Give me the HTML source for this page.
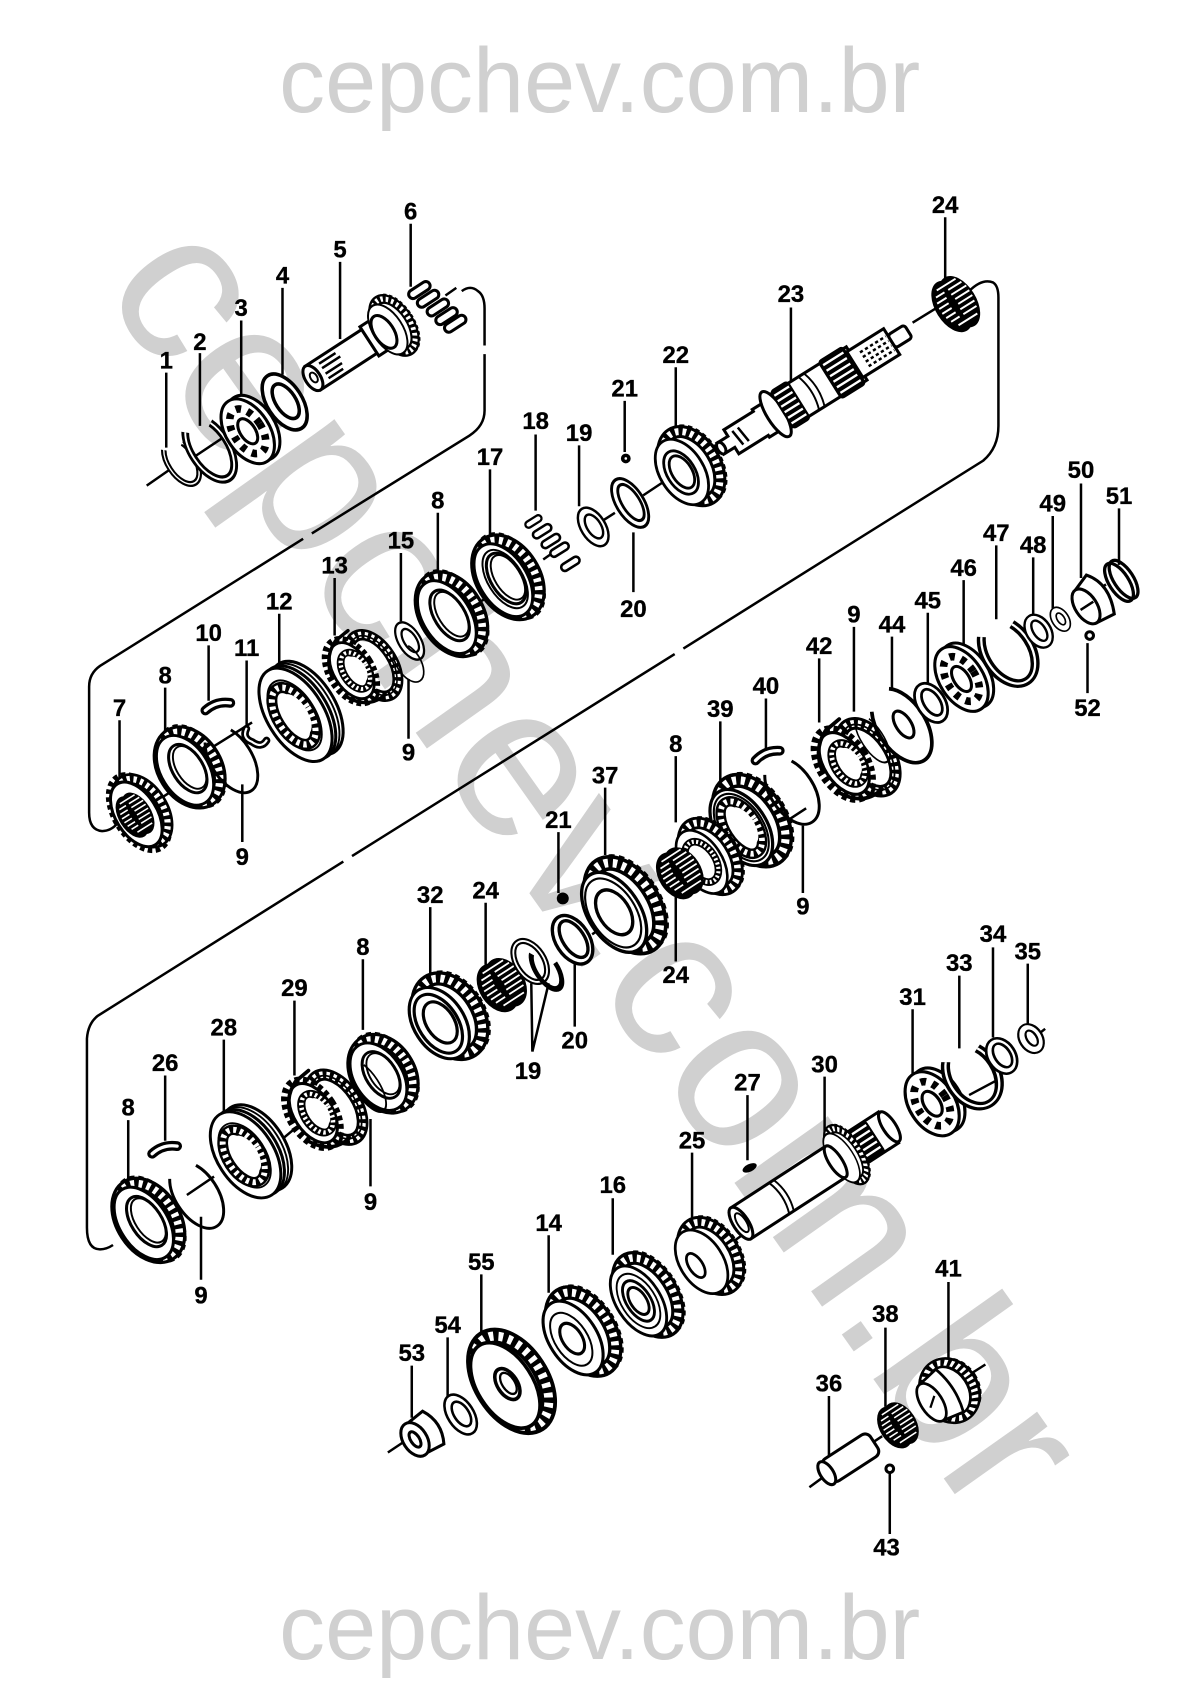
<!DOCTYPE html>
<html><head><meta charset="utf-8"><style>
html,body{margin:0;padding:0;background:#fff}
svg{display:block}
.n{font:bold 22px "Liberation Sans",sans-serif;text-anchor:middle;fill:#000;stroke:#000;stroke-width:.3}
.w1{font:84.5px "Liberation Sans",sans-serif;fill:#d0d0d0;text-anchor:middle}
.w2{font:200px "Liberation Sans",sans-serif;fill:#d0d0d0}
.l{stroke:#000;stroke-width:2.3;fill:none}
.f{fill:#fff;stroke:#000;stroke-width:2.8}
.o{fill:none;stroke:#000;stroke-width:1.8}
.t{fill:#fff;stroke:#000;stroke-width:7;stroke-dasharray:4.4 3.2}
.k{fill:none;stroke:#000;stroke-linecap:round}
.x{fill:none;stroke:#fff;stroke-linecap:round}
</style></head><body>
<svg xmlns="http://www.w3.org/2000/svg" width="1194" height="1704" viewBox="0 0 1099 1568.5">
<defs>
<g id="lad"><ellipse rx="24" ry="38" fill="none" stroke="#000" stroke-width="13"/><ellipse rx="24" ry="38" fill="none" stroke="#fff" stroke-width="7" stroke-dasharray="3.6 4"/></g>
<g id="tg"><ellipse rx="24" ry="41" class="t"/><ellipse rx="22" ry="38" class="f"/></g>
<g id="ring8"><use href="#tg" x="5"/><use href="#lad" x="3" transform="scale(1 .98)"/><ellipse cx="-2" rx="22" ry="37" class="f"/><ellipse cx="1" rx="14" ry="26" class="f" stroke-width="3.4"/><ellipse cx="3" rx="12" ry="23" class="o"/></g>
<g id="gear"><ellipse cx="12" rx="24" ry="40" class="t"/><use href="#lad" x="8"/><ellipse cx="-3" rx="22" ry="36" class="f" stroke-width="3"/></g>
<g id="spl"><ellipse rx="15" ry="28" fill="#fff" stroke="#000" stroke-width="10"/><ellipse rx="15" ry="28" fill="none" stroke="#fff" stroke-width="5.5" stroke-dasharray="3 3.4"/><ellipse cx="3" rx="10" ry="20" fill="#fff"/></g>
<g id="sleeve"><ellipse cx="12" rx="26" ry="48" class="f" stroke-width="3.4"/><ellipse cx="8" rx="26" ry="48" class="o"/><ellipse cx="4" rx="26" ry="48" class="f"/><ellipse rx="26" ry="48" class="f" stroke-width="3.4"/><ellipse cx="-1" rx="19" ry="36" class="o"/><use href="#spl" x="-2" transform="scale(1 1.05)"/></g>
<g id="hub"><use href="#lad" transform="translate(13 5) scale(.82 .9)"/><ellipse cx="13" cy="5" rx="19" ry="33" fill="none" stroke="#000" stroke-width="1.6"/><ellipse cx="-9" cy="-2" rx="21" ry="35" class="t"/><ellipse cx="-8" cy="-2" rx="18" ry="31" class="f"/><use href="#spl" transform="translate(-5 0) scale(.8 .72)"/><path d="M-28 -8Q-24 -28 -6 -36L10 -38" class="k" stroke-width="3.4"/><path d="M-26 18Q-14 40 8 36" class="k" stroke-width="3.4"/></g>
<g id="roll"><ellipse cx="6" rx="15" ry="25" fill="#000"/><ellipse cx="-2" rx="15" ry="25" fill="#000"/><path d="M-6 -19H14M-10 -14H-1M3 -14H17M-12 -9H-2M3 -9H19M-13 -4H-3M4 -4H19M-13 1H-3M4 1H19M-12 6H-2M3 6H18M-10 11H-1M3 11H17M-6 17H14" stroke="#fff" stroke-width="1.7" fill="none"/></g>
<g id="bear"><ellipse cx="6" rx="20" ry="33" class="f" stroke-width="3.4"/><ellipse rx="20" ry="33" class="f" stroke-width="4.5"/><ellipse rx="13" ry="23" fill="none" stroke="#000" stroke-width="7" stroke-dasharray="5 6"/><ellipse rx="7" ry="13" class="f" stroke-width="3"/></g>
<g id="snap"><ellipse rx="20" ry="32" fill="none" stroke="#000" stroke-width="8" stroke-dasharray="78 22" stroke-dashoffset="12" pathLength="100"/><ellipse rx="20" ry="32" fill="none" stroke="#fff" stroke-width="2" stroke-dasharray="78 22" stroke-dashoffset="12" pathLength="100"/></g>
<g id="wire"><ellipse rx="20" ry="36" fill="none" stroke="#000" stroke-width="2.8" stroke-dasharray="80 20" stroke-dashoffset="14" pathLength="100"/></g>
<g id="wash"><ellipse rx="14" ry="24" class="f" stroke-width="5"/><ellipse cx="1" rx="8" ry="15" class="f"/></g>
<g id="cap"><rect x="-11" y="-4" width="22" height="8" rx="4" class="f" stroke-width="3"/></g>
<g id="key"><path d="M-12 4Q-2 -5 11 -3" class="k" stroke-width="9"/><path d="M-12 4Q-2 -5 11 -3" class="x" stroke-width="3"/></g>
</defs>

<text class="w1" x="552" y="103">cepchev.com.br</text>
<text class="w1" x="552" y="1527">cepchev.com.br</text>
<text class="w2" transform="translate(92 264) rotate(54.7)">cepchev.com.br</text>

<!-- brackets -->
<path class="l" d="M425 268Q433 262 440 268Q446 272 446 284V318M446 326V378Q446 392 432 401L287 491M279 496L92 613Q82 620 82 632V748Q82 764 94 765Q102 765 108 758"/>
<path class="l" d="M892 268Q904 256 914 260Q919 263 919 274V392Q919 412 905 424L629 597M621 602L324 788M316 793L90 935Q81 942 80 956V1130Q80 1150 92 1150Q98 1150 104 1146"/>

<!-- axis pieces -->
<g class="l">
<path d="M135 447L158 431M178 421L205 403M410 272L420 265"/>
<path d="M143 738L160 727M192 690L232 665M440 555L452 548M500 515L510 508M552 481L566 472M592 456L610 444M840 297L866 281"/>
<path d="M117 1140L150 1117M172 1100L197 1083M258 1050L270 1040M545 860L568 845M672 792L680 786M710 765L742 744M1012 542L1018 538"/>
<path d="M357 1337L372 1327M455 1290L480 1272M515 1250L535 1238M578 1208L600 1192M672 1145L690 1132M952 955L962 947M922 992L892 1008"/>
<path d="M745 1369L760 1358M803 1328L812 1322M885 1270L907 1256"/>
</g>

<!-- leaders -->
<path class="l" d="M153 343V412M184 325V392M222 295V366M260 265V345M313 241V312M378 206V264M870 200V258M728 283V356M622 338V400M575 369V416M493 400V470M533 410V466M451 432V498M403 472V533M369 509V572M308 532V585M257 565V612M192 594V645M227 608V668M152 633V690M110 663V716M223 722V775M376 625V680M583 490V545M995 445V532M1030 468V520M969 475V560M951 513V566M917 502V570M887 534V597M854 564V630M821 586V640M786 577V655M754 606V665M1001 592V638M705 643V690M663 664V720M622 696V757M557 725V787M514 766V822M739 760V822M622 815V885M396 835V900M447 831V888M334 883V948M271 921V990M206 957V1028M152 990V1050M118 1031V1090M341 1030V1092M185 1120V1178M529 880V945M490 968L489 905M490 968L505 905M914 872V955M946 887V948M883 898V965M840 929V990M759 991V1052M688 1008V1068M637 1061V1125M564 1103V1155M505 1137V1190M443 1173V1226M412 1231V1285M379 1257V1305M873 1180V1260M815 1222V1295M763 1285V1345M819 1355V1412"/>

<!-- ROW 1 -->
<g transform="translate(167 425) rotate(-33) scale(.62 .72)"><use href="#snap"/></g>
<g transform="translate(193 413) rotate(-33) scale(.85 1)"><use href="#snap"/></g>
<use href="#bear" transform="translate(228 397) rotate(-33)"/>
<g transform="translate(262 370) rotate(-33) scale(1.15 1.2)"><use href="#wash"/></g>
<g transform="translate(288 348) rotate(-33)"><rect x="0" y="-13" width="62" height="26" class="f"/><ellipse cx="0" rx="7" ry="13" class="f"/><path d="M12 -8H30M12 -3H32M12 3H30M12 8H28" class="l" stroke-width="3.4"/><ellipse cx="1" rx="3" ry="5" class="o"/><rect x="62" y="-16" width="12" height="32" class="f"/><use href="#gear" transform="translate(84 0) scale(.62 .72)"/><ellipse cx="78" rx="9" ry="17" class="f"/></g>
<use href="#cap" transform="translate(386 267) rotate(-33)"/><use href="#cap" transform="translate(394 275) rotate(-33)"/><use href="#cap" transform="translate(403 283) rotate(-33)"/><use href="#cap" transform="translate(411 291) rotate(-33)"/><use href="#cap" transform="translate(419 298) rotate(-33)"/>

<!-- ROW 2 -->
<g transform="translate(128 748) rotate(-32)"><use href="#tg" transform="scale(.92 .92)"/><use href="#lad" x="4" transform="scale(.8 .85)"/><ellipse cx="-3" rx="19" ry="33" class="f"/><use href="#roll" transform="translate(-6 0) scale(.8 .85)"/></g>
<use href="#ring8" transform="translate(172 708) rotate(-32) scale(1 .95)"/>
<use href="#key" transform="translate(201 650)"/>
<use href="#wire" transform="translate(213 699) rotate(-32) scale(.95 .95)"/>
<g transform="translate(236 678) rotate(-32)"><path d="M-4 -11Q-12 -6 -6 2Q-2 12 6 8" class="k" stroke-width="7"/><path d="M-4 -11Q-12 -6 -6 2Q-2 12 6 8" class="x" stroke-width="2"/></g>
<use href="#sleeve" transform="translate(272 658) rotate(-32)"/>
<use href="#hub" transform="translate(331 615) rotate(-32) scale(.92 .92)"/>
<g transform="translate(377 590) rotate(-32) scale(.72 .8)"><use href="#wash"/></g>
<use href="#wire" transform="translate(376 610) rotate(-32) scale(.55 .55)"/>
<use href="#ring8" transform="translate(413 567) rotate(-32)"/>
<g transform="translate(465 533) rotate(-32)"><use href="#ring8"/><ellipse cx="0" rx="16" ry="30" class="o"/></g>
<use href="#cap" transform="translate(491 480) rotate(-32) scale(.75)"/><use href="#cap" transform="translate(499 489) rotate(-32) scale(.85)"/><use href="#cap" transform="translate(507 498) rotate(-32) scale(.85)"/><use href="#cap" transform="translate(515 506) rotate(-32) scale(.85)"/><use href="#cap" transform="translate(525 519) rotate(-32) scale(.85)"/>
<g transform="translate(546 485) rotate(-32) scale(.8 .82)"><use href="#wash"/></g>
<g transform="translate(580 463) rotate(-32) scale(.9 1.05)"><ellipse rx="14" ry="24" class="f" stroke-width="5"/><ellipse cx="1" rx="9" ry="18" class="f"/></g>
<circle cx="576" cy="422" r="4.5" fill="#000"/><circle cx="576" cy="422" r="1.2" fill="#fff"/>
<g transform="translate(630 433) rotate(-32) scale(.92 .92)"><use href="#gear"/><ellipse cx="-4" rx="14" ry="24" class="f"/><ellipse cx="-3" rx="10" ry="18" class="f"/></g>
<!-- shaft 23 -->
<g transform="translate(663 413) rotate(-32)">
<path class="f" d="M0 -6H12V-13H44V-15H60V15H44V13H12V6H0Z"/><ellipse cx="1" rx="3.5" ry="6" class="f"/><path d="M18 -8L20 8M24 -8L26 8" class="l" stroke-width="3.4"/>
<rect x="60" y="-18" width="88" height="36" class="f"/><ellipse cx="60" rx="8" ry="24" class="f" stroke-width="3.4"/>
<rect x="66" y="-21" width="20" height="42" rx="4" fill="#000"/><path d="M68 -15H84M68 -9H84M68 -3H84M68 3H84M68 9H84M68 15H84" stroke="#fff" stroke-width="2.2"/>
<path d="M96 -18Q102 0 96 18M102 -18Q108 0 102 18" class="o"/>
<rect x="118" y="-21" width="28" height="42" rx="4" fill="#000"/><path d="M121 -15H143M121 -9H143M121 -3H143M121 3H143M121 9H143M121 15H143" stroke="#fff" stroke-width="2.2"/>
<rect x="146" y="-14" width="40" height="28" class="f"/><path d="M156 -7H184M156 -2H184M156 3H184M156 8H184" class="l" stroke-dasharray="3 2.5" stroke-width="3.4"/>
<rect x="186" y="-7" width="18" height="14" rx="3" class="f"/>
</g>
<use href="#roll" transform="translate(878 281) rotate(-32) scale(1.02 1.05)"/>

<!-- ROW 3 -->
<use href="#ring8" transform="translate(134 1125) rotate(-33)"/>
<use href="#key" transform="translate(152 1058)"/>
<use href="#wire" transform="translate(181 1100) rotate(-33) scale(.98 .95)"/>
<use href="#sleeve" transform="translate(226 1063) rotate(-33) scale(1 .92)"/>
<use href="#hub" transform="translate(296 1022) rotate(-33) scale(.98 .98)"/>
<use href="#ring8" transform="translate(350 990) rotate(-33) scale(1 .92)"/>
<use href="#wire" transform="translate(338 1000) rotate(-33) scale(.55 .75)"/>
<g transform="translate(407 940) rotate(-33) scale(1.06 1)"><use href="#gear"/><ellipse cx="-4" rx="17" ry="30" class="f"/><ellipse cx="-2" rx="12" ry="21" class="f"/></g>
<use href="#roll" transform="translate(460 908) rotate(-33) scale(1.12 .98)"/>
<g transform="translate(488 885) rotate(-33) scale(.9 .95)"><ellipse rx="14" ry="22" fill="none" stroke="#000" stroke-width="6"/><ellipse rx="14" ry="22" fill="none" stroke="#fff" stroke-width="1.8"/></g>
<g transform="translate(503 892) rotate(-33) scale(.7 .95)"><ellipse rx="14" ry="22" fill="none" stroke="#000" stroke-width="6" stroke-dasharray="70 30" pathLength="100"/></g>
<g transform="translate(527 865) rotate(-33) scale(1.1 1.12)"><ellipse rx="14" ry="22" class="f" stroke-width="6"/><ellipse cx="1" rx="9" ry="17" class="f"/></g>
<circle cx="518" cy="827" r="5.5" fill="#000"/>
<g transform="translate(568 838) rotate(-33) scale(1.08 1.14)"><use href="#gear"/><ellipse cx="-4" rx="19" ry="31" class="o"/><ellipse cx="-3" rx="13" ry="20" class="f" stroke-width="3"/></g>
<g transform="translate(685 760) rotate(-33) scale(1.06 1.08)"><use href="#gear"/><ellipse cx="-3" rx="19" ry="32" class="o"/><use href="#spl" transform="translate(-3 0) scale(.9 .9)"/></g>
<g transform="translate(648 792) rotate(-33) scale(.85 .9)"><use href="#gear"/><use href="#lad" transform="translate(-3 0) scale(.62 .6)"/></g>
<use href="#roll" transform="translate(624 805) rotate(-33) scale(1.05 .95)"/>
<use href="#key" transform="translate(707 695) rotate(-5)"/>
<use href="#wire" transform="translate(729 728) rotate(-33) scale(1 .95)"/>
<use href="#hub" transform="translate(785 700) rotate(-33) scale(1.02 1.02)"/>
<g transform="translate(830 668) rotate(-33)"><ellipse rx="22" ry="38" fill="#fff" stroke="#000" stroke-width="3.4" stroke-dasharray="84 16" stroke-dashoffset="20" pathLength="100"/><ellipse cx="2" rx="7" ry="14" class="f" stroke-width="3"/></g>
<use href="#wire" transform="translate(803 680) rotate(-33) scale(.5 .7)"/>
<g transform="translate(857 647) rotate(-33) scale(.92 .9)"><ellipse rx="14" ry="22" class="f" stroke-width="5"/><ellipse cx="1" rx="8" ry="15" class="f"/></g>
<g transform="translate(885 625) rotate(-33) scale(1 1)"><use href="#bear"/></g>
<g transform="translate(928 600) rotate(-33) scale(1.05 1)"><use href="#snap"/></g>
<g transform="translate(956 581) rotate(-33) scale(.8 .75)"><ellipse rx="14" ry="22" class="f" stroke-width="6"/><ellipse cx="1" rx="7" ry="14" class="f"/></g>
<g transform="translate(976 570) rotate(-33) scale(.55 .55)"><ellipse rx="14" ry="22" class="f" stroke-width="7"/><ellipse cx="1" rx="6" ry="11" class="f" stroke-width="3"/></g>
<g transform="translate(1003 556) rotate(-33)"><path class="f" d="M-4 -18L12 -24Q26 -6 14 20L-4 18Z" stroke-width="3.4"/><ellipse cx="-4" rx="10" ry="18" class="f" stroke-width="3.4"/><path d="M-10 0H4" class="l"/></g>
<g transform="translate(1030 536) rotate(-33)"><ellipse rx="9" ry="20" fill="none" stroke="#000" stroke-width="3"/><ellipse cx="5" rx="9" ry="20" fill="none" stroke="#000" stroke-width="3"/></g>
<circle cx="1003" cy="585" r="3.5" class="f" stroke-width="2.4"/>

<!-- ROW 4 -->
<g transform="translate(382 1325) rotate(-33)"><path class="f" d="M0 -16L20 -18Q30 0 20 18L0 16Z"/><ellipse rx="11" ry="17" class="f" stroke-width="4.5"/><ellipse rx="4" ry="8" class="f"/></g>
<g transform="translate(424 1302) rotate(-33) scale(.85 .85)"><use href="#wash"/></g>
<g transform="translate(467 1274) rotate(-33) scale(1.15 1.22)"><ellipse cx="6" rx="24" ry="40" class="t"/><use href="#lad" x="4"/><ellipse cx="-2" rx="22" ry="36" class="f" stroke-width="2.8"/><ellipse cx="0" rx="8" ry="13" class="f" stroke-width="2.2"/><ellipse cx="1" rx="5" ry="9" class="o"/></g>
<g transform="translate(530 1230) rotate(-33) scale(1 1.05)"><use href="#gear"/><ellipse cx="-4" rx="9" ry="15" class="f" stroke-width="3"/><ellipse cx="-5" rx="15" ry="26" class="o"/></g>
<g transform="translate(590 1196) rotate(-33) scale(.92 1)"><use href="#gear"/><ellipse cx="-3" rx="17" ry="28" class="o"/><ellipse cx="-3" rx="12" ry="21" class="f"/><ellipse cx="-3" rx="8" ry="14" class="f" stroke-width="3"/></g>
<g transform="translate(648 1160) rotate(-33) scale(.9 .9)"><use href="#gear"/><ellipse cx="-10" rx="7" ry="14" class="f" stroke-width="3"/></g>
<!-- shaft 30 -->
<g transform="translate(682 1126) rotate(-33)">
<rect x="0" y="-17" width="105" height="34" class="f" stroke-width="3.2"/><ellipse cx="0" rx="7" ry="17" class="f" stroke-width="3"/><ellipse cx="1" rx="4" ry="10" class="o"/><path d="M42 -17Q48 0 42 17M47 -17Q53 0 47 17" class="o"/>
<rect x="122" y="-17" width="40" height="34" class="f"/><rect x="124" y="-18" width="24" height="36" rx="4" fill="#000"/><path d="M126 -13H146M126 -7H146M126 -1H146M126 5H146M126 11H146" stroke="#fff" stroke-width="2.2"/><ellipse cx="163" rx="6" ry="16" class="f"/>
<use href="#gear" transform="translate(112 0) scale(.5 .72)"/><ellipse cx="104" rx="6" ry="17" class="f"/>
</g>
<ellipse cx="690" cy="1075" rx="7" ry="3.5" fill="#000" transform="rotate(-25 690 1075)"/>
<g transform="translate(858 1016) rotate(-33) scale(1.05 .98)"><use href="#bear"/></g>
<g transform="translate(895 990) rotate(-33) scale(1.1 .95)"><use href="#snap"/></g>
<g transform="translate(922 972) rotate(-33) scale(.9 .8)"><ellipse rx="14" ry="22" class="f" stroke-width="5"/><ellipse cx="1" rx="8" ry="15" class="f"/></g>
<g transform="translate(949 956) rotate(-33) scale(.75 .65)"><ellipse rx="14" ry="22" class="f" stroke-width="6"/><ellipse cx="1" rx="6" ry="12" class="f" stroke-width="3"/></g>

<!-- ROW 5 -->
<g transform="translate(761 1356) rotate(-33)"><rect x="0" y="-12" width="52" height="24" rx="6" class="f"/><ellipse rx="6" ry="12" class="f"/></g>
<use href="#roll" transform="translate(825 1313) rotate(-33) scale(.9 .85)"/>
<g transform="translate(868 1284) rotate(-33) scale(.9 .9)"><ellipse cx="12" rx="24" ry="30" class="t" stroke-width="10" stroke-dasharray="6 5"/><use href="#lad" transform="translate(8 0) scale(1 .8)"/><path class="f" d="M-14 -22L8 -26Q16 0 8 26L-14 22Z"/><ellipse cx="-14" rx="11" ry="22" class="f" stroke-width="3"/><path d="M-18 4L-8 -4" class="l"/></g>
<circle cx="819" cy="1352" r="3.5" class="f" stroke-width="2.4"/>

<!-- labels -->
<g>
<text class="n" x="153" y="339">1</text><text class="n" x="184" y="322">2</text><text class="n" x="222" y="291">3</text><text class="n" x="260" y="261">4</text><text class="n" x="313" y="237">5</text><text class="n" x="378" y="202">6</text><text class="n" x="870" y="196">24</text><text class="n" x="728" y="278">23</text><text class="n" x="622" y="334">22</text><text class="n" x="575" y="365">21</text><text class="n" x="493" y="395">18</text><text class="n" x="533" y="406">19</text><text class="n" x="451" y="428">17</text><text class="n" x="403" y="468">8</text><text class="n" x="369" y="505">15</text><text class="n" x="308" y="528">13</text><text class="n" x="257" y="561">12</text><text class="n" x="192" y="590">10</text><text class="n" x="227" y="604">11</text><text class="n" x="152" y="629">8</text><text class="n" x="110" y="659">7</text><text class="n" x="223" y="796">9</text><text class="n" x="376" y="700">9</text><text class="n" x="583" y="568">20</text><text class="n" x="995" y="440">50</text><text class="n" x="1030" y="464">51</text><text class="n" x="969" y="471">49</text><text class="n" x="951" y="509">48</text><text class="n" x="917" y="498">47</text><text class="n" x="887" y="530">46</text><text class="n" x="854" y="560">45</text><text class="n" x="821" y="582">44</text><text class="n" x="786" y="573">9</text><text class="n" x="754" y="602">42</text><text class="n" x="1001" y="659">52</text><text class="n" x="705" y="639">40</text><text class="n" x="663" y="660">39</text><text class="n" x="622" y="692">8</text><text class="n" x="557" y="721">37</text><text class="n" x="514" y="762">21</text><text class="n" x="739" y="842">9</text><text class="n" x="622" y="905">24</text><text class="n" x="396" y="831">32</text><text class="n" x="447" y="827">24</text><text class="n" x="334" y="879">8</text><text class="n" x="271" y="917">29</text><text class="n" x="206" y="953">28</text><text class="n" x="152" y="986">26</text><text class="n" x="118" y="1027">8</text><text class="n" x="486" y="993">19</text><text class="n" x="529" y="965">20</text><text class="n" x="341" y="1114">9</text><text class="n" x="185" y="1200">9</text><text class="n" x="914" y="867">34</text><text class="n" x="946" y="883">35</text><text class="n" x="883" y="894">33</text><text class="n" x="840" y="925">31</text><text class="n" x="759" y="987">30</text><text class="n" x="688" y="1004">27</text><text class="n" x="637" y="1057">25</text><text class="n" x="564" y="1098">16</text><text class="n" x="505" y="1133">14</text><text class="n" x="443" y="1169">55</text><text class="n" x="412" y="1227">54</text><text class="n" x="379" y="1253">53</text><text class="n" x="873" y="1175">41</text><text class="n" x="815" y="1217">38</text><text class="n" x="763" y="1281">36</text><text class="n" x="816" y="1432">43</text>
</g>
</svg>
</body></html>
